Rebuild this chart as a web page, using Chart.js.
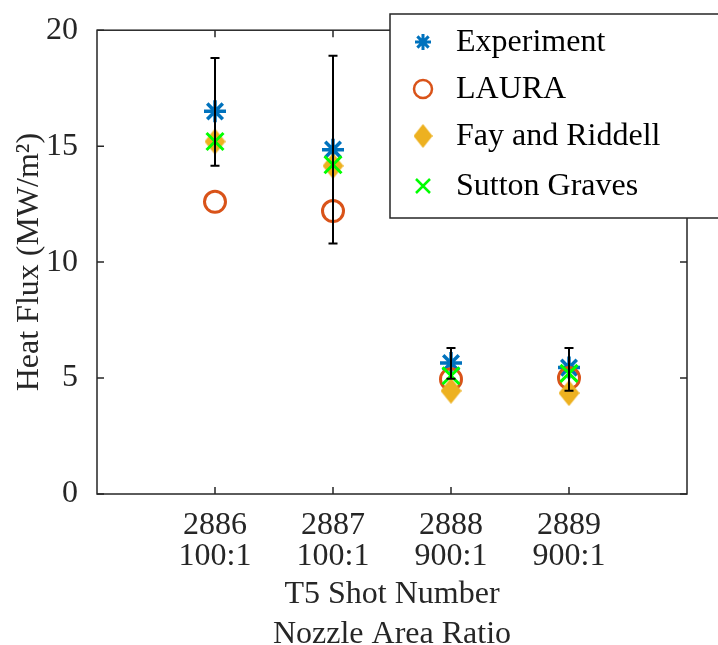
<!DOCTYPE html>
<html>
<head>
<meta charset="utf-8">
<script src="https://cdn.jsdelivr.net/npm/chart.js@4.4.0/dist/chart.umd.min.js"></script>
<style>
  body { margin: 0; background: #fff; }
  #wrap { width: 718px; height: 645px; }
</style>
</head>
<body>
<div id="wrap"><canvas id="myChart" width="718" height="645"></canvas></div>
<script>
const shots = ['2886', '2887', '2888', '2889'];
const ratios = ['100:1', '100:1', '900:1', '900:1'];
const shotPos = [1, 2, 3, 4];
const experiment = [16.5, 14.85, 5.65, 5.45];
const expLow = [14.15, 10.8, 4.97, 4.45];
const expHigh = [18.8, 18.9, 6.3, 6.3];
const laura = [12.6, 12.2, 4.95, 5.0];
const fayRiddell = [15.2, 14.15, 4.45, 4.35];
const suttonGraves = [15.2, 14.2, 5.1, 5.2];
const yTicks = [0, 5, 10, 15, 20];

const FONT = '"Liberation Serif", "DejaVu Serif", serif';
const AXIS = '#262626';

// tall diamond like the matlab marker
function diamond(w, h, color) {
  const c = document.createElement('canvas');
  c.width = w; c.height = h;
  const g = c.getContext('2d');
  g.fillStyle = color;
  g.beginPath();
  g.moveTo(w / 2, 0); g.lineTo(w, h / 2); g.lineTo(w / 2, h); g.lineTo(0, h / 2);
  g.closePath(); g.fill();
  return c;
}

const pts = (vals) => vals.map((v, i) => ({ x: shotPos[i], y: v }));

const data = {
  datasets: [
    { label: 'Experiment', data: pts(experiment), pointStyle: 'star', pointRadius: 11,
      borderColor: '#0072BD', pointBorderWidth: 3.5, backgroundColor: '#0072BD', order: 4 },
    { label: 'LAURA', data: pts(laura), pointStyle: 'circle', pointRadius: 10.5,
      borderColor: '#D95319', pointBorderWidth: 3, backgroundColor: 'transparent', order: 3 },
    { label: 'Fay and Riddell', data: pts(fayRiddell), pointStyle: diamond(21, 26, '#EDB120'),
      borderColor: '#EDB120', backgroundColor: '#EDB120', order: 2 },
    { label: 'Sutton Graves', data: pts(suttonGraves), pointStyle: 'crossRot', pointRadius: 12,
      borderColor: '#00FF00', pointBorderWidth: 3, backgroundColor: '#00FF00', order: 1 },
  ]
};

const errorBars = {
  id: 'errorBars',
  afterDatasetsDraw(chart) {
    const { ctx, scales: { x, y } } = chart;
    ctx.save();
    ctx.strokeStyle = '#000';
    ctx.lineWidth = 2;
    shotPos.forEach((p, i) => {
      const px = x.getPixelForValue(p);
      const top = y.getPixelForValue(expHigh[i]);
      const bot = y.getPixelForValue(expLow[i]);
      ctx.beginPath();
      ctx.moveTo(px, top); ctx.lineTo(px, bot);
      ctx.moveTo(px - 4.5, top); ctx.lineTo(px + 4.5, top);
      ctx.moveTo(px - 4.5, bot); ctx.lineTo(px + 4.5, bot);
      ctx.stroke();
    });
    ctx.restore();
  }
};

const frame = {
  id: 'frame',
  afterDraw(chart) {
    const { ctx, chartArea: a, scales: { x, y } } = chart;
    ctx.save();
    ctx.strokeStyle = AXIS;
    ctx.lineWidth = 1.5;
    ctx.strokeRect(a.left, a.top, a.right - a.left, a.bottom - a.top);
    ctx.beginPath();
    const t = 7;
    yTicks.forEach(v => {
      const py = y.getPixelForValue(v);
      ctx.moveTo(a.left, py); ctx.lineTo(a.left + t, py);
      ctx.moveTo(a.right, py); ctx.lineTo(a.right - t, py);
    });
    shotPos.forEach(v => {
      const px = x.getPixelForValue(v);
      ctx.moveTo(px, a.bottom); ctx.lineTo(px, a.bottom - t);
      ctx.moveTo(px, a.top); ctx.lineTo(px, a.top + t);
    });
    ctx.stroke();

    // legend box
    const lx = 390, ly = 14, lw = 330, lh = 204;
    ctx.fillStyle = '#fff';
    ctx.fillRect(lx, ly, lw, lh);
    ctx.strokeStyle = AXIS;
    ctx.lineWidth = 1.5;
    ctx.strokeRect(lx, ly, lw, lh);
    const rows = [42, 89, 136, 186];
    const mx = 423;
    ctx.font = '32px ' + FONT;
    ctx.textBaseline = 'middle';
    ctx.textAlign = 'left';
    chart.data.datasets.forEach((ds, i) => {
      const cy = rows[i];
      ctx.fillStyle = '#000';
      ctx.fillText(ds.label, 456, cy + 1);
      ctx.strokeStyle = ds.borderColor;
      ctx.fillStyle = ds.backgroundColor;
      if (i === 0) {
        ctx.lineWidth = 3;
        Chart.helpers.drawPoint(ctx, { pointStyle: 'star', radius: 8, borderWidth: 3 }, mx, cy);
      } else if (i === 1) {
        ctx.lineWidth = 2.5;
        ctx.beginPath(); ctx.arc(mx, cy, 9, 0, Math.PI * 2); ctx.stroke();
      } else if (i === 2) {
        ctx.drawImage(diamond(19, 24, '#EDB120'), mx - 9.5, cy - 12);
      } else {
        ctx.lineWidth = 2.5;
        ctx.beginPath();
        ctx.moveTo(mx - 7, cy - 7); ctx.lineTo(mx + 7, cy + 7);
        ctx.moveTo(mx + 7, cy - 7); ctx.lineTo(mx - 7, cy + 7);
        ctx.stroke();
      }
    });
    ctx.restore();
  }
};

const config = {
  type: 'scatter',
  data: data,
  options: {
    responsive: false,
    animation: false,
    layout: { padding: { left: 0, top: 22, right: 31, bottom: 0 } },
    plugins: { legend: { display: false }, tooltip: { enabled: false } },
    scales: {
      x: {
        type: 'linear', min: 0, max: 5,
        afterBuildTicks: (s) => { s.ticks = shotPos.map(v => ({ value: v })); },
        afterFit: (s) => { s.height = 151; },
        grid: { display: false }, border: { display: false },
        ticks: {
          padding: 8, color: '#262626', maxRotation: 0,
          font: { family: FONT, size: 32, lineHeight: 0.97 },
          callback: (v) => { const i = shotPos.indexOf(v); return i < 0 ? '' : [shots[i], ratios[i]]; }
        },
        title: {
          display: true, text: ['T5 Shot Number', 'Nozzle Area Ratio'], color: '#262626',
          font: { family: FONT, size: 32, lineHeight: 1.25 }, padding: { top: 0, bottom: -10 }
        }
      },
      y: {
        min: 0, max: 20,
        afterBuildTicks: (s) => { s.ticks = yTicks.map(v => ({ value: v })); },
        afterFit: (s) => { s.width = 97; },
        grid: { display: false }, border: { display: false },
        ticks: { padding: 11, color: '#262626', font: { family: FONT, size: 32 } },
        title: {
          display: true, text: 'Heat Flux (MW/m²)', color: '#262626',
          font: { family: FONT, size: 32 }, padding: { top: 10, bottom: 0 }
        }
      }
    }
  },
  plugins: [errorBars, frame]
};

if (document.getElementById('myChart')) {
  const myChart = new Chart(
    document.getElementById('myChart').getContext('2d'),
    config
  );
}
</script>
</body>
</html>
